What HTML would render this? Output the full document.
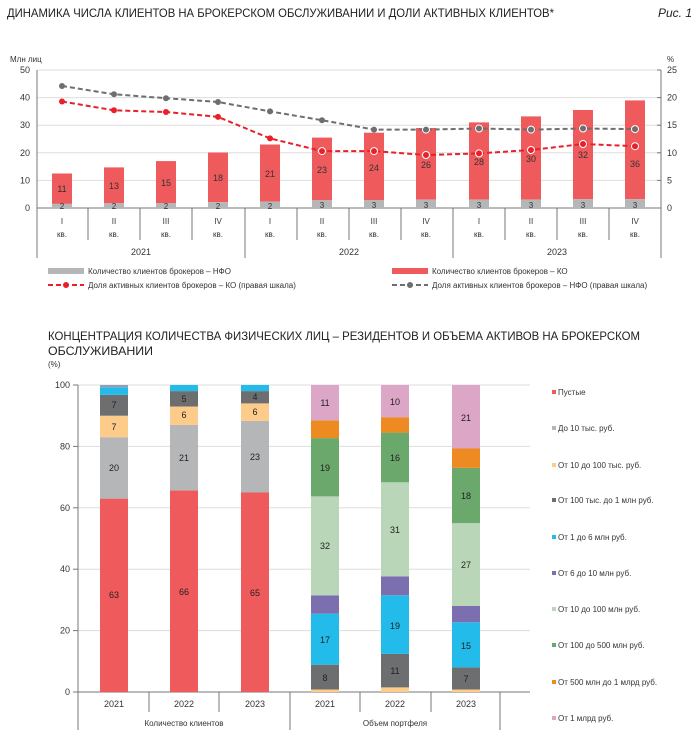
<!DOCTYPE html>
<html><head><meta charset="utf-8"><style>
html,body{margin:0;padding:0;background:#fff;}
svg{display:block;font-family:"Liberation Sans",sans-serif;}
</style></head><body>
<svg width="700" height="740" viewBox="0 0 700 740" xmlns="http://www.w3.org/2000/svg">
<text x="7" y="17" font-size="12" fill="#222" textLength="547" lengthAdjust="spacingAndGlyphs">ДИНАМИКА ЧИСЛА КЛИЕНТОВ НА БРОКЕРСКОМ ОБСЛУЖИВАНИИ И ДОЛИ АКТИВНЫХ КЛИЕНТОВ*</text>
<text x="692" y="17" font-size="12" fill="#222" font-style="italic" text-anchor="end">Рис. 1</text>

<!-- top chart -->
<text x="10" y="62" font-size="8" fill="#333">Млн лиц</text>
<text x="667" y="62" font-size="8" fill="#333">%</text>
<g stroke="#ddd" stroke-width="1">
<line x1="37" y1="70" x2="661" y2="70"/><line x1="37" y1="97.6" x2="661" y2="97.6"/><line x1="37" y1="125.2" x2="661" y2="125.2"/><line x1="37" y1="152.8" x2="661" y2="152.8"/><line x1="37" y1="180.4" x2="661" y2="180.4"/>
</g>
<g font-size="9" fill="#333" text-anchor="end">
<text x="30" y="73">50</text><text x="30" y="100.6">40</text><text x="30" y="128.2">30</text><text x="30" y="155.8">20</text><text x="30" y="183.4">10</text><text x="30" y="211">0</text>
</g>
<g font-size="9" fill="#333">
<text x="667" y="73">25</text><text x="667" y="100.6">20</text><text x="667" y="128.2">15</text><text x="667" y="155.8">10</text><text x="667" y="183.4">5</text><text x="667" y="211">0</text>
</g>
<g stroke="#777" stroke-width="1">
<line x1="37" y1="70" x2="37" y2="258"/><line x1="661" y1="70" x2="661" y2="258"/>
<line x1="37" y1="208" x2="661" y2="208"/>
<line x1="88" y1="208" x2="88" y2="240"/><line x1="140" y1="208" x2="140" y2="240"/><line x1="192" y1="208" x2="192" y2="240"/>
<line x1="245" y1="208" x2="245" y2="258"/>
<line x1="297" y1="208" x2="297" y2="240"/><line x1="349" y1="208" x2="349" y2="240"/><line x1="401" y1="208" x2="401" y2="240"/>
<line x1="453" y1="208" x2="453" y2="258"/>
<line x1="505" y1="208" x2="505" y2="240"/><line x1="557" y1="208" x2="557" y2="240"/><line x1="609" y1="208" x2="609" y2="240"/>
<line x1="657" y1="70" x2="661" y2="70"/><line x1="657" y1="97.6" x2="661" y2="97.6"/><line x1="657" y1="125.2" x2="661" y2="125.2"/><line x1="657" y1="152.8" x2="661" y2="152.8"/><line x1="657" y1="180.4" x2="661" y2="180.4"/>
</g>
<!-- bars -->
<g fill="#ef5a5c">
<rect x="52" y="173.5" width="20" height="30.4"/>
<rect x="104" y="167.4" width="20" height="35.9"/>
<rect x="156" y="161.1" width="20" height="41.9"/>
<rect x="208" y="152.5" width="20" height="49.7"/>
<rect x="260" y="144.5" width="20" height="57.2"/>
<rect x="312" y="137.6" width="20" height="62.7"/>
<rect x="364" y="132.7" width="20" height="67.3"/>
<rect x="416" y="128" width="20" height="71.7"/>
<rect x="469" y="122.4" width="20" height="77.3"/>
<rect x="521" y="116.4" width="20" height="83.3"/>
<rect x="573" y="110" width="20" height="89.2"/>
<rect x="625" y="100.4" width="20" height="98.8"/>
</g>
<g fill="#b5b6b8">
<rect x="52" y="203.9" width="20" height="4.1"/>
<rect x="104" y="203.3" width="20" height="4.7"/>
<rect x="156" y="203" width="20" height="5"/>
<rect x="208" y="202.2" width="20" height="5.8"/>
<rect x="260" y="201.7" width="20" height="6.3"/>
<rect x="312" y="200.3" width="20" height="7.7"/>
<rect x="364" y="200" width="20" height="8"/>
<rect x="416" y="199.7" width="20" height="8.3"/>
<rect x="469" y="199.7" width="20" height="8.3"/>
<rect x="521" y="199.7" width="20" height="8.3"/>
<rect x="573" y="199.2" width="20" height="8.8"/>
<rect x="625" y="199.2" width="20" height="8.8"/>
</g>
<g font-size="9" fill="#333" text-anchor="middle">
<text x="62" y="192">11</text><text x="114" y="189">13</text><text x="166" y="186">15</text><text x="218" y="181">18</text><text x="270" y="177">21</text><text x="322" y="173">23</text><text x="374" y="171">24</text><text x="426" y="168">26</text><text x="479" y="165">28</text><text x="531" y="162">30</text><text x="583" y="158">32</text><text x="635" y="167">36</text>
</g>
<g font-size="8" fill="#333" text-anchor="middle">
<text x="62" y="209">2</text><text x="114" y="209">2</text><text x="166" y="209">2</text><text x="218" y="209">2</text><text x="270" y="209">2</text><text x="322" y="208">3</text><text x="374" y="208">3</text><text x="426" y="208">3</text><text x="479" y="208">3</text><text x="531" y="208">3</text><text x="583" y="208">3</text><text x="635" y="208">3</text>
</g>
<!-- lines -->
<polyline fill="none" stroke="#6d6e70" stroke-width="2" stroke-dasharray="5,3" points="62,86 114,94.3 166,98.2 218,102 270,111.4 322,120.2 374,129.6 426,129.6 479,128.5 531,129.6 583,128.5 635,129.1"/>
<polyline fill="none" stroke="#e8202a" stroke-width="2" stroke-dasharray="5,3" points="62,101.5 114,110.3 166,112 218,116.9 270,138.4 322,151.1 374,151.1 426,155 479,153.4 531,150 583,144 635,146.2"/>
<g fill="#6d6e70">
<circle cx="62" cy="86" r="3"/><circle cx="114" cy="94.3" r="3"/><circle cx="166" cy="98.2" r="3"/><circle cx="218" cy="102" r="3"/><circle cx="270" cy="111.4" r="3"/><circle cx="322" cy="120.2" r="3"/><circle cx="374" cy="129.6" r="3"/>
</g>
<g fill="#6d6e70" stroke="#fff" stroke-width="1">
<circle cx="426" cy="129.6" r="3.5"/><circle cx="479" cy="128.5" r="3.5"/><circle cx="531" cy="129.6" r="3.5"/><circle cx="583" cy="128.5" r="3.5"/><circle cx="635" cy="129.1" r="3.5"/>
</g>
<g fill="#e8202a">
<circle cx="62" cy="101.5" r="3"/><circle cx="114" cy="110.3" r="3"/><circle cx="166" cy="112" r="3"/><circle cx="218" cy="116.9" r="3"/><circle cx="270" cy="138.4" r="3"/>
</g>
<g fill="#e8202a" stroke="#fff" stroke-width="1">
<circle cx="322" cy="151.1" r="3.5"/><circle cx="374" cy="151.1" r="3.5"/><circle cx="426" cy="155" r="3.5"/><circle cx="479" cy="153.4" r="3.5"/><circle cx="531" cy="150" r="3.5"/><circle cx="583" cy="144" r="3.5"/><circle cx="635" cy="146.2" r="3.5"/>
</g>
<!-- x labels -->
<g font-size="8" fill="#333" text-anchor="middle">
<text x="62" y="224">I</text><text x="114" y="224">II</text><text x="166" y="224">III</text><text x="218" y="224">IV</text><text x="270" y="224">I</text><text x="322" y="224">II</text><text x="374" y="224">III</text><text x="426" y="224">IV</text><text x="479" y="224">I</text><text x="531" y="224">II</text><text x="583" y="224">III</text><text x="635" y="224">IV</text>
<text x="62" y="237">кв.</text><text x="114" y="237">кв.</text><text x="166" y="237">кв.</text><text x="218" y="237">кв.</text><text x="270" y="237">кв.</text><text x="322" y="237">кв.</text><text x="374" y="237">кв.</text><text x="426" y="237">кв.</text><text x="479" y="237">кв.</text><text x="531" y="237">кв.</text><text x="583" y="237">кв.</text><text x="635" y="237">кв.</text>
</g>
<g font-size="9" fill="#333" text-anchor="middle">
<text x="141" y="255">2021</text><text x="349" y="255">2022</text><text x="557" y="255">2023</text>
</g>
<!-- legend top -->
<rect x="48" y="268" width="36" height="6" fill="#b5b6b8"/>
<text x="88" y="274" font-size="8" fill="#333">Количество клиентов брокеров – НФО</text>
<line x1="48" y1="285" x2="84" y2="285" stroke="#e8202a" stroke-width="2" stroke-dasharray="5,3"/>
<circle cx="66" cy="285" r="3" fill="#e8202a"/>
<text x="88" y="288" font-size="8" fill="#333">Доля активных клиентов брокеров – КО (правая шкала)</text>
<rect x="392" y="268" width="36" height="6" fill="#ef5a5c"/>
<text x="432" y="274" font-size="8" fill="#333">Количество клиентов брокеров – КО</text>
<line x1="392" y1="285" x2="428" y2="285" stroke="#6d6e70" stroke-width="2" stroke-dasharray="5,3"/>
<circle cx="410" cy="285" r="3" fill="#6d6e70"/>
<text x="432" y="288" font-size="8" fill="#333">Доля активных клиентов брокеров – НФО (правая шкала)</text>

<!-- bottom chart title -->
<text x="48" y="340" font-size="12" fill="#222" textLength="592" lengthAdjust="spacingAndGlyphs">КОНЦЕНТРАЦИЯ КОЛИЧЕСТВА ФИЗИЧЕСКИХ ЛИЦ – РЕЗИДЕНТОВ И ОБЪЕМА АКТИВОВ НА БРОКЕРСКОМ</text>
<text x="48" y="355" font-size="12" fill="#222" textLength="105" lengthAdjust="spacingAndGlyphs">ОБСЛУЖИВАНИИ</text>
<text x="48" y="367" font-size="8" fill="#333">(%)</text>

<g stroke="#ddd" stroke-width="1">
<line x1="78" y1="385" x2="530" y2="385"/><line x1="78" y1="446.4" x2="530" y2="446.4"/><line x1="78" y1="507.8" x2="530" y2="507.8"/><line x1="78" y1="569.2" x2="530" y2="569.2"/><line x1="78" y1="630.6" x2="530" y2="630.6"/>
</g>
<g font-size="9" fill="#333" text-anchor="end">
<text x="70" y="388">100</text><text x="70" y="449.4">80</text><text x="70" y="510.8">60</text><text x="70" y="572.2">40</text><text x="70" y="633.6">20</text><text x="70" y="695">0</text>
</g>
<g stroke="#777" stroke-width="1">
<line x1="78" y1="385" x2="78" y2="730"/>
<line x1="73" y1="385" x2="78" y2="385"/><line x1="73" y1="446.4" x2="78" y2="446.4"/><line x1="73" y1="507.8" x2="78" y2="507.8"/><line x1="73" y1="569.2" x2="78" y2="569.2"/><line x1="73" y1="630.6" x2="78" y2="630.6"/>
<line x1="73" y1="692" x2="530" y2="692"/>
<line x1="149" y1="692" x2="149" y2="712"/><line x1="219" y1="692" x2="219" y2="712"/>
<line x1="290" y1="692" x2="290" y2="730"/>
<line x1="360" y1="692" x2="360" y2="712"/><line x1="431" y1="692" x2="431" y2="712"/>
<line x1="500" y1="692" x2="500" y2="730"/>
</g>
<!-- count bars -->
<rect x="100" y="498.6" width="28" height="193.4" fill="#ef5a5c"/>
<rect x="100" y="437.2" width="28" height="61.4" fill="#b5b6b8"/>
<rect x="100" y="415.7" width="28" height="21.5" fill="#fdcb8a"/>
<rect x="100" y="394.8" width="28" height="20.9" fill="#6d6e70"/>
<rect x="100" y="387.2" width="28" height="7.6" fill="#22bbea"/>
<rect x="100" y="385" width="28" height="2.2" fill="#9a9ab0"/>

<rect x="170" y="490.3" width="28" height="201.7" fill="#ef5a5c"/>
<rect x="170" y="424.9" width="28" height="65.4" fill="#b5b6b8"/>
<rect x="170" y="406.5" width="28" height="18.4" fill="#fdcb8a"/>
<rect x="170" y="391.1" width="28" height="15.4" fill="#6d6e70"/>
<rect x="170" y="385" width="28" height="6.1" fill="#22bbea"/>

<rect x="241" y="492.5" width="28" height="199.5" fill="#ef5a5c"/>
<rect x="241" y="420.9" width="28" height="71.6" fill="#b5b6b8"/>
<rect x="241" y="403.4" width="28" height="17.5" fill="#fdcb8a"/>
<rect x="241" y="391.1" width="28" height="12.3" fill="#6d6e70"/>
<rect x="241" y="385" width="28" height="6.1" fill="#22bbea"/>

<!-- portfolio bars -->
<rect x="311" y="689.5" width="28" height="2.5" fill="#fdcb8a"/>
<rect x="311" y="664.7" width="28" height="24.8" fill="#6d6e70"/>
<rect x="311" y="613.7" width="28" height="51" fill="#22bbea"/>
<rect x="311" y="595.3" width="28" height="18.4" fill="#7b6fb0"/>
<rect x="311" y="496.4" width="28" height="98.9" fill="#b9d7b8"/>
<rect x="311" y="438.1" width="28" height="58.3" fill="#6aa86b"/>
<rect x="311" y="420.3" width="28" height="17.8" fill="#ed8a22"/>
<rect x="311" y="385" width="28" height="35.3" fill="#dca6c6"/>

<rect x="381" y="687.4" width="28" height="4.6" fill="#fdcb8a"/>
<rect x="381" y="653.9" width="28" height="33.5" fill="#6d6e70"/>
<rect x="381" y="595.3" width="28" height="58.6" fill="#22bbea"/>
<rect x="381" y="576.3" width="28" height="19" fill="#7b6fb0"/>
<rect x="381" y="482.3" width="28" height="94" fill="#b9d7b8"/>
<rect x="381" y="432.6" width="28" height="49.7" fill="#6aa86b"/>
<rect x="381" y="417.2" width="28" height="15.4" fill="#ed8a22"/>
<rect x="381" y="385" width="28" height="32.2" fill="#dca6c6"/>

<rect x="452" y="689.5" width="28" height="2.5" fill="#fdcb8a"/>
<rect x="452" y="667.4" width="28" height="22.1" fill="#6d6e70"/>
<rect x="452" y="622.3" width="28" height="45.1" fill="#22bbea"/>
<rect x="452" y="606" width="28" height="16.3" fill="#7b6fb0"/>
<rect x="452" y="523.2" width="28" height="82.8" fill="#b9d7b8"/>
<rect x="452" y="467.9" width="28" height="55.3" fill="#6aa86b"/>
<rect x="452" y="448.5" width="28" height="19.4" fill="#ed8a22"/>
<rect x="452" y="385" width="28" height="63.5" fill="#dca6c6"/>

<g font-size="9" fill="#222" text-anchor="middle">
<text x="114" y="598">63</text><text x="114" y="471">20</text><text x="114" y="430">7</text><text x="114" y="408">7</text>
<text x="184" y="595">66</text><text x="184" y="461">21</text><text x="184" y="418">6</text><text x="184" y="402">5</text>
<text x="255" y="596">65</text><text x="255" y="460">23</text><text x="255" y="415">6</text><text x="255" y="400">4</text>
<text x="325" y="681">8</text><text x="325" y="643">17</text><text x="325" y="549">32</text><text x="325" y="471">19</text><text x="325" y="406">11</text>
<text x="395" y="674">11</text><text x="395" y="629">19</text><text x="395" y="533">31</text><text x="395" y="461">16</text><text x="395" y="405">10</text>
<text x="466" y="682">7</text><text x="466" y="649">15</text><text x="466" y="568">27</text><text x="466" y="499">18</text><text x="466" y="421">21</text>
</g>
<g font-size="9" fill="#333" text-anchor="middle">
<text x="114" y="707">2021</text><text x="184" y="707">2022</text><text x="255" y="707">2023</text>
<text x="325" y="707">2021</text><text x="395" y="707">2022</text><text x="466" y="707">2023</text>
</g>
<g font-size="8" fill="#333" text-anchor="middle">
<text x="184" y="726">Количество клиентов</text><text x="395" y="726">Объем портфеля</text>
</g>
<!-- legend bottom -->
<g font-size="8" fill="#333">
<rect x="552" y="390" width="4" height="4" fill="#ef5a5c"/><text x="558" y="395">Пустые</text>
<rect x="552" y="426" width="4" height="4" fill="#b5b6b8"/><text x="558" y="431">До 10 тыс. руб.</text>
<rect x="552" y="463" width="4" height="4" fill="#fdcb8a"/><text x="558" y="468">От 10 до 100 тыс. руб.</text>
<rect x="552" y="498" width="4" height="4" fill="#6d6e70"/><text x="558" y="503">От 100 тыс. до 1 млн руб.</text>
<rect x="552" y="535" width="4" height="4" fill="#22bbea"/><text x="558" y="540">От 1 до 6 млн руб.</text>
<rect x="552" y="571" width="4" height="4" fill="#7b6fb0"/><text x="558" y="576">От 6 до 10 млн руб.</text>
<rect x="552" y="607" width="4" height="4" fill="#b9d7b8"/><text x="558" y="612">От 10 до 100 млн руб.</text>
<rect x="552" y="643" width="4" height="4" fill="#6aa86b"/><text x="558" y="648">От 100 до 500 млн руб.</text>
<rect x="552" y="680" width="4" height="4" fill="#ed8a22"/><text x="558" y="685">От 500 млн до 1 млрд руб.</text>
<rect x="552" y="716" width="4" height="4" fill="#dca6c6"/><text x="558" y="721">От 1 млрд руб.</text>
</g>
</svg>
</body></html>
